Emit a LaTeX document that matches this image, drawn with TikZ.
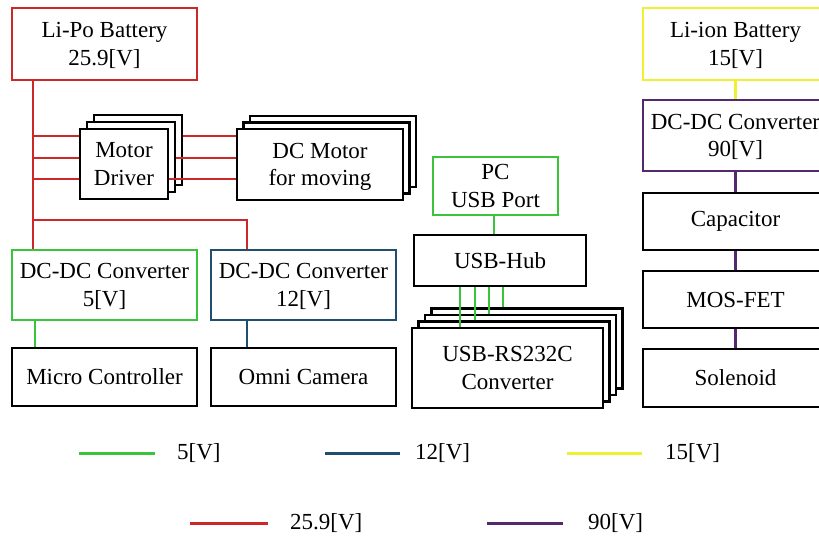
\documentclass[tikz,border=0pt]{standalone}
\usepackage{fontspec}
\setmainfont{Liberation Serif}
\definecolor{cred}{RGB}{205,40,40}
\definecolor{cgreen}{RGB}{60,195,60}
\definecolor{cblue}{RGB}{31,78,110}
\definecolor{cyellow}{RGB}{240,240,50}
\definecolor{cpurple}{RGB}{85,40,110}
\tikzset{
  every node/.style={font=\fontsize{23}{27.5}\selectfont},
  box/.style={draw, line width=2.3pt, fill=white, align=center, inner sep=0pt},
  two/.style={text depth=-2pt},
  wire/.style={line width=2.4pt},
  legline/.style={line width=3pt},
  legtext/.style={anchor=west, inner sep=0pt}
}
\begin{document}
\begin{tikzpicture}[x=1pt,y=-1pt]
\useasboundingbox (0,0) rectangle (819,539);
\clip (0,0) rectangle (819,539);
\fill[white] (0,0) rectangle (819,539);

% red feed lines to the motor drivers (left segments, behind the stack)
\coordinate (r1) at (33,136);
\coordinate (r2) at (33,158);
\coordinate (r3) at (33,179);
\coordinate (j1) at (33,220);
\coordinate (j2) at (247,220);

% boxes
\node[box, two, draw=cred, minimum width=185, minimum height=72] (lipo) at (104.5,44) {Li-Po Battery\\25.9[V]};

\draw[wire, cred] (lipo.south -| j1) -- (j1);
\draw[wire, cred] (r1) -- (124,136);
\draw[wire, cred] (r2) -- (124,158);
\draw[wire, cred] (r3) -- (124,179);

% motor driver stack
\node[box, minimum width=88, minimum height=70] (drv3) at (138,150) {};
\node[box, minimum width=88, minimum height=70] (drv2) at (131,157) {};
\node[box, two, minimum width=88, minimum height=70] (drv1) at (124,164) {Motor\\Driver};

% DC motor stack
\node[box, minimum width=166, minimum height=71] (mot3) at (333,151.5) {};
\node[box, minimum width=166, minimum height=71] (mot2) at (326.5,158) {};
\node[box, two, minimum width=166, minimum height=71] (mot1) at (320,164.5) {DC Motor\\for moving};

\draw[wire, cred] (drv3.east |- r1) -- (mot1.west |- r1);
\draw[wire, cred] (drv2.east |- r2) -- (mot1.west |- r2);
\draw[wire, cred] (drv1.east |- r3) -- (mot1.west |- r3);

% converters
\node[box, two, draw=cgreen, minimum width=185, minimum height=70] (dc5) at (104.5,285) {DC-DC Converter\\5[V]};
\node[box, two, draw=cblue, minimum width=185, minimum height=70] (dc12) at (303.5,285) {DC-DC Converter\\12[V]};
\node[box, minimum width=185, minimum height=58] (mc) at (104.5,377) {Micro Controller};
\node[box, minimum width=185, minimum height=58] (cam) at (303.5,377) {Omni Camera};

\draw[wire, cred] (j1) -- (dc5.north -| j1);
\draw[wire, cred] (j1) -- (j2) -- (dc12.north -| j2);
\coordinate (g5) at (35,334);
\draw[wire, cgreen] (dc5.south -| g5) -- (mc.north -| g5);
\draw[wire, cblue] (dc12.south -| j2) -- (cam.north -| j2);

% USB section
\node[box, two, draw=cgreen, minimum width=125, minimum height=58] (pc) at (495.5,186) {PC\\USB Port};
\node[box, minimum width=172, minimum height=51] (hub) at (500,260.5) {USB-Hub};
\coordinate (u0) at (494,225);
\draw[wire, cgreen] (pc.south -| u0) -- (hub.north -| u0);

\node[box, minimum width=191, minimum height=80] (cv4) at (527,348.5) {};
\node[box, minimum width=191, minimum height=80] (cv3) at (520.5,355) {};
\node[box, minimum width=191, minimum height=80] (cv2) at (514,361.5) {};
\node[box, two, minimum width=191, minimum height=80] (cv1) at (507.5,368) {USB-RS232C\\Converter};

\coordinate (u1) at (460,300);
\coordinate (u2) at (475,300);
\coordinate (u3) at (489,300);
\coordinate (u4) at (503,300);
\draw[wire, cgreen] (hub.south -| u1) -- (cv1.north -| u1);
\draw[wire, cgreen] (hub.south -| u2) -- (cv2.north -| u2);
\draw[wire, cgreen] (hub.south -| u3) -- (cv3.north -| u3);
\draw[wire, cgreen] (hub.south -| u4) -- (cv4.north -| u4);

% right column
\node[box, two, draw=cyellow, minimum width=185, minimum height=72] (liion) at (735.5,44) {Li-ion Battery\\15[V]};
\node[box, two, draw=cpurple, minimum width=185, minimum height=71] (dc90) at (735.5,135.5) {DC-DC Converter\\90[V]};
\node[box, minimum width=185, minimum height=57] (cap) at (735.5,221.5) {Capacitor};
\node[box, minimum width=185, minimum height=57] (mos) at (735.5,299.5) {MOS-FET};
\node[box, minimum width=185, minimum height=58] (sol) at (735.5,378) {Solenoid};

\draw[wire, cyellow] (liion.south) -- (dc90.north);
\draw[wire, cpurple] (dc90.south) -- (cap.north);
\draw[wire, cpurple] (cap.south) -- (mos.north);
\draw[wire, cpurple] (mos.south) -- (sol.north);

% legend
\node[legtext] (t5) at (177,453) {5[V]};
\node[legtext] (t12) at (415,453) {12[V]};
\node[legtext] (t15) at (665,453) {15[V]};
\node[legtext] (t259) at (290,523) {25.9[V]};
\node[legtext] (t90) at (588,523) {90[V]};
\coordinate (a5) at (79,453);
\coordinate (a12) at (325,453);
\coordinate (a15) at (567,453);
\coordinate (a259) at (190,523);
\coordinate (a90) at (487,523);
\draw[legline, cgreen] (a5) -- ++(76,0);
\draw[legline, cblue] (a12) -- ++(75,0);
\draw[legline, cyellow] (a15) -- ++(75,0);
\draw[legline, cred] (a259) -- ++(78,0);
\draw[legline, cpurple] (a90) -- ++(76,0);
\end{tikzpicture}
\end{document}
